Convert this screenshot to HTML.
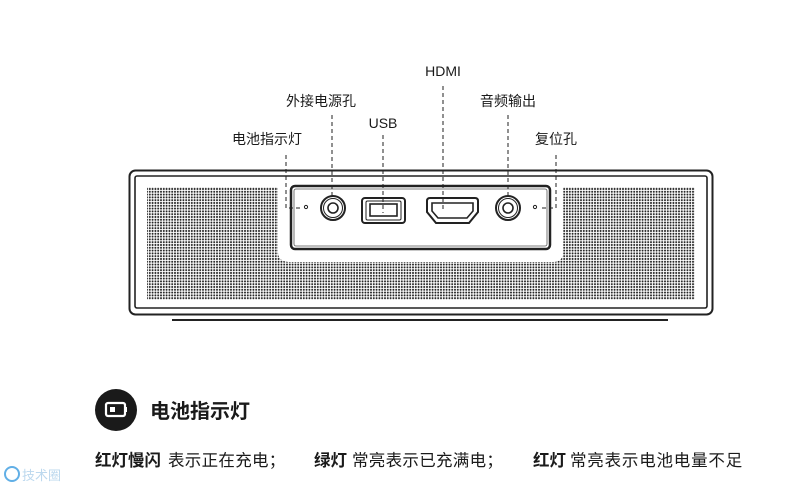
<!DOCTYPE html>
<html><head><meta charset="utf-8"><style>
html,body{margin:0;padding:0;background:#fff;width:800px;height:496px;overflow:hidden}
svg text{font-family:"Liberation Sans","Noto Sans CJK SC",sans-serif;fill:#1a1a1a}
</style></head><body>
<svg width="800" height="496" viewBox="0 0 800 496" xmlns="http://www.w3.org/2000/svg">
<defs>
<pattern id="dots" x="0" y="0" width="2.8" height="2.8" patternUnits="userSpaceOnUse">
<circle cx="1.4" cy="1.4" r="1" fill="#222"/>
</pattern>
<clipPath id="gr"><path d="M147 187 H278 V252 Q278 262 290 262 H553 Q563 262 563 252 V187 H695 V300 H147 Z"/></clipPath>
</defs>
<line x1="172" y1="320" x2="668" y2="320" stroke="#222" stroke-width="2"/>
<rect x="129.5" y="170.5" width="583" height="144" rx="6" fill="#fff" stroke="#222" stroke-width="2"/>
<rect x="135" y="176" width="572" height="132" rx="2" fill="none" stroke="#222" stroke-width="1.6"/>
<rect x="147" y="187" width="548" height="113" fill="url(#dots)" clip-path="url(#gr)"/>
<rect x="291" y="186" width="259" height="63" rx="4" fill="#fff" stroke="#222" stroke-width="2.5"/>
<rect x="294" y="189" width="253" height="57" rx="2" fill="none" stroke="#555" stroke-width="0.8"/>
<circle cx="333" cy="208" r="12" fill="none" stroke="#222" stroke-width="2"/>
<circle cx="333" cy="208" r="9.5" fill="none" stroke="#222" stroke-width="1"/>
<circle cx="333" cy="208" r="5" fill="none" stroke="#222" stroke-width="1.6"/>
<rect x="362" y="198" width="43" height="25" rx="3" fill="none" stroke="#222" stroke-width="2"/>
<rect x="366" y="201" width="35" height="19" rx="1.5" fill="none" stroke="#222" stroke-width="1"/>
<rect x="370" y="204" width="27" height="12" fill="none" stroke="#222" stroke-width="1.6"/>
<path d="M427 201 Q427 198 430 198 H475 Q478 198 478 201 V212 L469 223 H436 L427 212 Z" fill="none" stroke="#222" stroke-width="2"/>
<path d="M432 203 H473 V211 L467 218 H438 L432 211 Z" fill="none" stroke="#222" stroke-width="1.6"/>
<circle cx="508" cy="208" r="12" fill="none" stroke="#222" stroke-width="2"/>
<circle cx="508" cy="208" r="9.5" fill="none" stroke="#222" stroke-width="1"/>
<circle cx="508" cy="208" r="5" fill="none" stroke="#222" stroke-width="1.6"/>
<circle cx="306" cy="207" r="1.6" fill="none" stroke="#222" stroke-width="1"/>
<circle cx="535" cy="207" r="1.6" fill="none" stroke="#222" stroke-width="1"/>
<g stroke="#222" stroke-width="1" stroke-dasharray="4,3" fill="none">
<path d="M286 155 V208 H301"/>
<path d="M332 115 V196"/>
<path d="M383 135 V213"/>
<path d="M443 86 V212"/>
<path d="M508 115 V196"/>
<path d="M556 155 V208 H540"/>
</g>
<g font-size="14" text-anchor="middle">
<text x="267" y="144">电池指示灯</text>
<text x="321" y="106">外接电源孔</text>
<text x="383" y="128">USB</text>
<text x="443" y="76">HDMI</text>
<text x="508" y="106">音频输出</text>
<text x="556" y="144">复位孔</text>
</g>
<circle cx="116" cy="410" r="21" fill="#1a1a1a"/>
<rect x="106" y="403" width="19" height="13" rx="2" fill="none" stroke="#fff" stroke-width="2.2"/>
<rect x="110" y="407" width="5" height="5" fill="#fff"/>
<rect x="125" y="407" width="2" height="5" fill="#fff"/>
<text x="150" y="418" font-size="20" font-weight="bold">电池指示灯</text>
<g font-size="16.5">
<text x="95" y="466" font-weight="bold">红灯慢闪</text>
<text x="168" y="466" letter-spacing="0.3">表示正在充电；</text>
<text x="314" y="466" font-weight="bold">绿灯</text>
<text x="352" y="466" letter-spacing="0.3">常亮表示已充满电；</text>
<text x="533" y="466" font-weight="bold">红灯</text>
<text x="570" y="466" letter-spacing="0.8">常亮表示电池电量不足</text>
</g>
<circle cx="12" cy="474" r="7" fill="none" stroke="#3a9be0" stroke-width="2" opacity="0.8"/>
<text x="22" y="480" font-size="13" style="fill:#bcd8ee">技术圈</text>
</svg>
</body></html>
